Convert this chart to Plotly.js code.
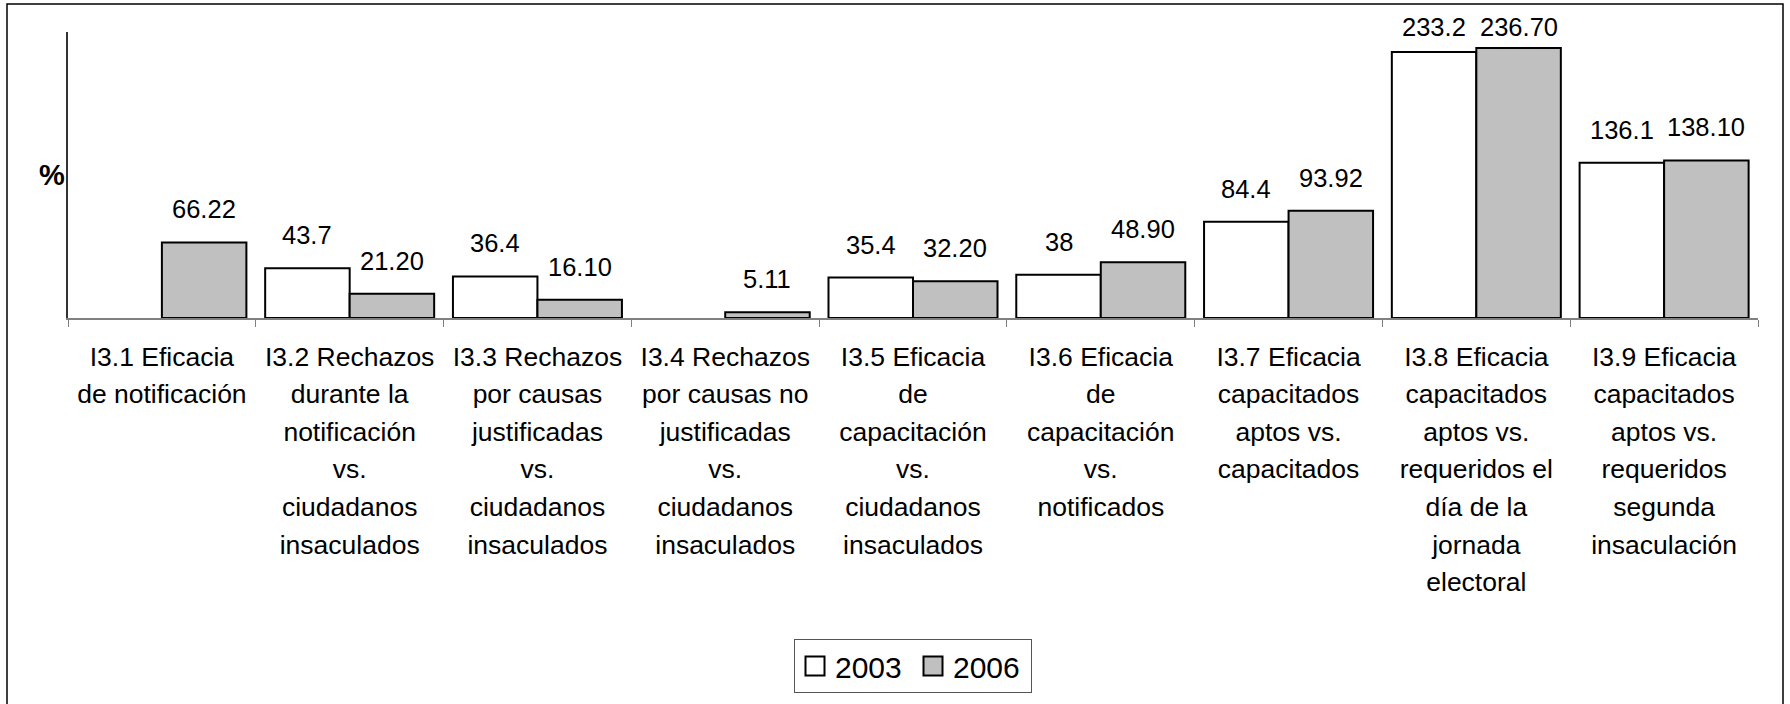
<!DOCTYPE html>
<html>
<head>
<meta charset="utf-8">
<script src="https://cdn.plot.ly/plotly-3.0.1.min.js"></script>
<style>
  html, body { margin: 0; padding: 0; background: #ffffff; }
  #chart { width: 1790px; height: 704px; }
</style>
</head>
<body>
<div id="chart"></div>
<script>
// ---- data ----
const categories = [
  "I3.1 Eficacia<br>de notificación",
  "I3.2 Rechazos<br>durante la<br>notificación<br>vs.<br>ciudadanos<br>insaculados",
  "I3.3 Rechazos<br>por causas<br>justificadas<br>vs.<br>ciudadanos<br>insaculados",
  "I3.4 Rechazos<br>por causas no<br>justificadas<br>vs.<br>ciudadanos<br>insaculados",
  "I3.5 Eficacia<br>de<br>capacitación<br>vs.<br>ciudadanos<br>insaculados",
  "I3.6 Eficacia<br>de<br>capacitación<br>vs.<br>notificados",
  "I3.7 Eficacia<br>capacitados<br>aptos vs.<br>capacitados",
  "I3.8 Eficacia<br>capacitados<br>aptos vs.<br>requeridos el<br>día de la<br>jornada<br>electoral",
  "I3.9 Eficacia<br>capacitados<br>aptos vs.<br>requeridos<br>segunda<br>insaculación"
];
const values2003 = [null, 43.7, 36.4, null, 35.4, 38, 84.4, 233.2, 136.1];
const values2006 = [66.22, 21.20, 16.10, 5.11, 32.20, 48.90, 93.92, 236.70, 138.10];
const labels2003 = ["", "43.7", "36.4", "", "35.4", "38", "84.4", "233.2", "136.1"];
const labels2006 = ["66.22", "21.20", "16.10", "5.11", "32.20", "48.90", "93.92", "236.70", "138.10"];
const seriesNames = ["2003", "2006"];

// ---- style ----
const FONT = "Arial, 'Liberation Sans', sans-serif";
const yMax = 250.7;
const bargap = 0.1;
const barHalfOffset = (1 - bargap) / 4;   // center offset of each bar in category units
const labelClamp = 226;                    // labels kept inside the chart area (like Excel)

const traces = [
  {
    type: "bar", name: seriesNames[0], x: categories, y: values2003,
    marker: { color: "#ffffff", line: { color: "#000000", width: 2 } },
    hoverinfo: "y"
  },
  {
    type: "bar", name: seriesNames[1], x: categories, y: values2006,
    marker: { color: "#c0c0c0", line: { color: "#000000", width: 2 } },
    hoverinfo: "y"
  }
];

const annotations = [];
function addLabels(vals, labels, sign) {
  vals.forEach((v, i) => {
    if (v === null || labels[i] === "") return;
    annotations.push({
      x: i + sign * barHalfOffset, xref: "x",
      y: Math.min(v, labelClamp), yref: "y",
      text: labels[i], showarrow: false,
      xanchor: "center", yanchor: "bottom", yshift: 17,
      font: { family: FONT, size: 25.5, color: "#000000" }
    });
  });
}
addLabels(values2003, labels2003, -1);
addLabels(values2006, labels2006, +1);

annotations.push({
  text: "<b>%</b>", xref: "paper", yref: "paper", x: 0, y: 0.5,
  xanchor: "right", yanchor: "middle", xshift: -1, showarrow: false,
  font: { family: FONT, size: 29, color: "#000000" }
});

const layout = {
  width: 1790, height: 704,
  margin: { l: 68, r: 32, t: 32, b: 386, pad: 0 },
  paper_bgcolor: "#ffffff", plot_bgcolor: "#ffffff",
  font: { family: FONT, color: "#000000" },
  barmode: "group", bargap: bargap, bargroupgap: 0,
  showlegend: true,
  legend: {
    orientation: "h", x: 0.5, xanchor: "center", y: -1.1224, yanchor: "top",
    font: { family: FONT, size: 30, color: "#000000" },
    bordercolor: "#555555", borderwidth: 1, bgcolor: "#ffffff",
    traceorder: "normal", entrywidth: 73, entrywidthmode: "pixels"
  },
  xaxis: {
    type: "category", showline: true, linecolor: "#808080", linewidth: 1.5,
    ticks: "outside", tickson: "boundaries", ticklen: 7, tickcolor: "#808080", tickwidth: 1,
    tickfont: { family: FONT, size: 26.5, color: "#000000" },
    ticklabelstandoff: 14,
    showgrid: false, zeroline: false, automargin: false, fixedrange: true
  },
  yaxis: {
    range: [0, yMax], showline: true, linecolor: "#333333", linewidth: 1.5,
    showticklabels: false, ticks: "", showgrid: false, zeroline: false,
    automargin: false, fixedrange: true
  },
  annotations: annotations,
  shapes: [{
    type: "rect", xref: "paper", yref: "paper",
    x0: (7 - 68) / 1690, x1: (1783 - 68) / 1690,
    y0: (318 - 712) / 286, y1: (318 - 4) / 286,
    line: { color: "#000000", width: 1.5 }, fillcolor: "rgba(0,0,0,0)", layer: "below"
  }]
};

function restyleText(gd) {
  // widen the line spacing of the multi-line category labels to match the original
  const factor = 1.42 / 1.3;
  gd.querySelectorAll(".xtick text tspan.line").forEach(t => {
    if (t.dataset.spaced) return;
    const dy = t.getAttribute("dy");
    if (dy && dy.endsWith("em")) {
      t.setAttribute("dy", (parseFloat(dy) * factor) + "em");
      t.dataset.spaced = "1";
    }
  });
  // larger legend swatches, as in the original
  gd.querySelectorAll(".legend .legendpoints path").forEach(p => {
    p.setAttribute("d", "M9.5,9.5H-9.5V-9.5H9.5Z");
  });
}

Plotly.newPlot("chart", traces, layout, { displayModeBar: false, responsive: false }).then(gd => {
  restyleText(gd);
  setTimeout(() => restyleText(gd), 50);
});
</script>
</body>
</html>
